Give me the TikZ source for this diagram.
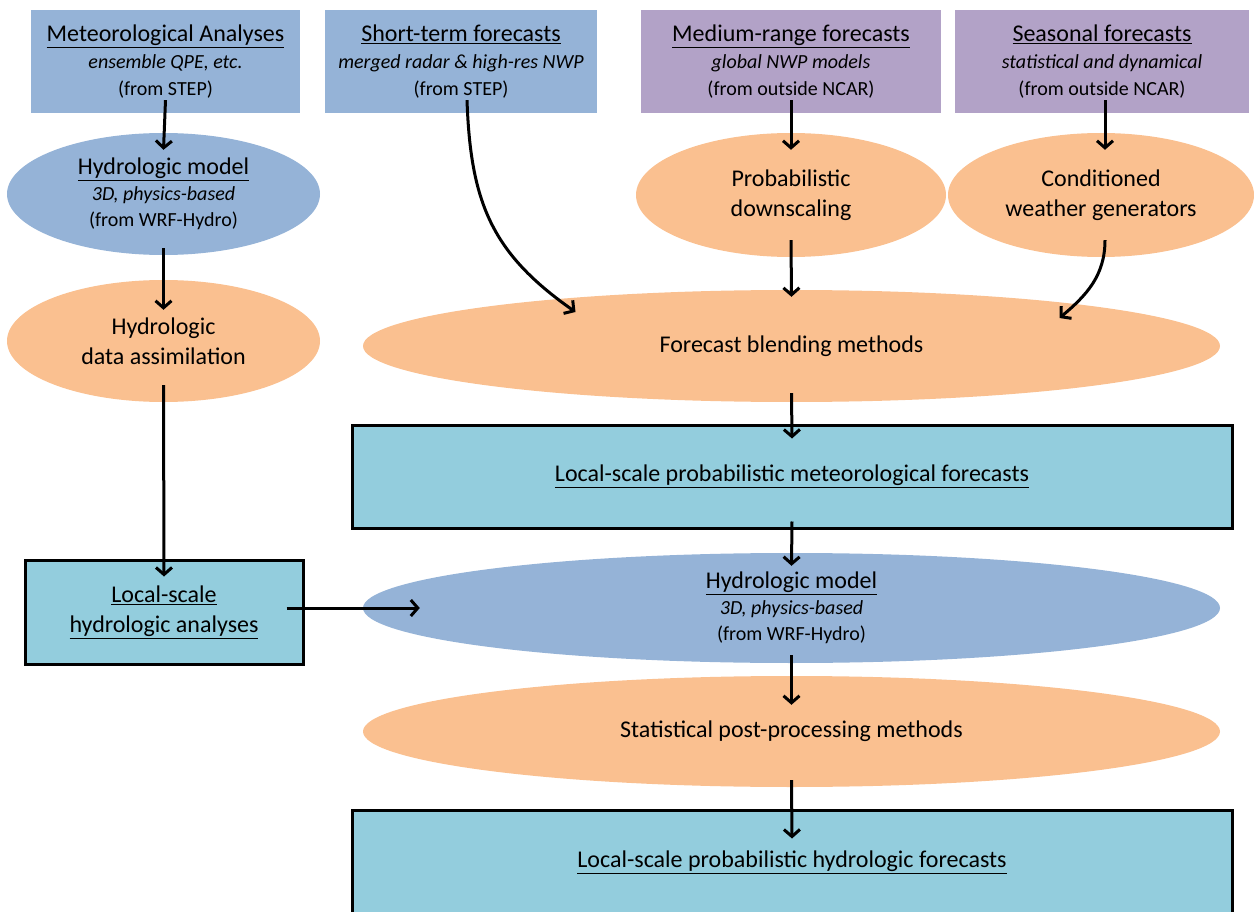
\documentclass[tikz,border=0pt]{standalone}
\usepackage{fontspec}
\setmainfont{Carlito}
\usetikzlibrary{shapes.geometric,arrows.meta}
\definecolor{srcblue}{RGB}{149,179,215}
\definecolor{srcpurple}{RGB}{178,162,199}
\definecolor{methorange}{RGB}{250,192,144}
\definecolor{prodcyan}{RGB}{147,205,221}
\newcommand{\boxtitle}[1]{{\fontsize{24}{26}\selectfont\underline{#1}}}

\begin{document}
\begin{tikzpicture}[x=1pt,y=-1pt,
font=\fontsize{24}{30}\selectfont,
srcbox/.style={rectangle, minimum height=103, inner sep=0pt, align=center,
    font=\fontsize{20}{27}\selectfont},
method/.style={ellipse, fill=methorange, inner sep=0pt, align=center},
model/.style={ellipse, fill=srcblue, inner sep=0pt, align=center,
    font=\fontsize{20}{26}\selectfont},
product/.style={rectangle, draw, line width=3pt, fill=prodcyan, inner sep=0pt,
    align=center},
flow/.style={line width=3pt, -{Straight Barb[length=7pt,width=16pt]}}]
\useasboundingbox (0,0) rectangle (1254,912);

% sources
\node[srcbox, fill=srcblue, minimum width=269] (met) at (165.5,61.5)
    {\boxtitle{Meteorological Analyses}\\ \textit{ensemble QPE, etc.}\\ (from STEP)};
\node[srcbox, fill=srcblue, minimum width=272] (short) at (461,61.5)
    {\boxtitle{Short-term forecasts}\\ \textit{merged radar \& high-res NWP}\\ (from STEP)};
\node[srcbox, fill=srcpurple, minimum width=300] (medium) at (791,61.5)
    {\boxtitle{Medium-range forecasts}\\ \textit{global NWP models}\\ (from outside NCAR)};
\node[srcbox, fill=srcpurple, minimum width=294] (seasonal) at (1102,61.5)
    {\boxtitle{Seasonal forecasts}\\ \textit{statistical and dynamical}\\ (from outside NCAR)};

% left column
\node[model, minimum width=313, minimum height=122] (hmleft) at (163.5,194)
    {\boxtitle{Hydrologic model}\\ \textit{3D, physics-based}\\ (from WRF-Hydro)};
\node[method, minimum width=313, minimum height=122] (assim) at (163.5,341)
    {Hydrologic\\ data assimilation};
\node[product, minimum width=278, minimum height=104] (hydan) at (164,612)
    {\underline{Local-scale}\\ \underline{hydrologic analyses}};

% forecast chain
\node[method, minimum width=310, minimum height=124] (downscale) at (791,195)
    {Probabilistic\\ downscaling};
\node[method, minimum width=306, minimum height=124] (wgen) at (1101,195)
    {Conditioned\\ weather generators};
\node[method, minimum width=857, minimum height=112] (blend) at (791.5,346)
    {Forecast blending methods};
\node[product, minimum width=880, minimum height=103] (metfc) at (792,476.5)
    {\underline{Local-scale probabilistic meteorological forecasts}};
\node[model, minimum width=857, minimum height=110] (hmright) at (791.5,608)
    {\boxtitle{Hydrologic model}\\ \textit{3D, physics-based}\\ (from WRF-Hydro)};
\node[method, minimum width=857, minimum height=111] (post) at (791.5,731.5)
    {Statistical post-processing methods};
\node[product, minimum width=880, minimum height=104] (hydfc) at (792,862)
    {\underline{Local-scale probabilistic hydrologic forecasts}};

% connectors
\draw[flow] ([yshift=13pt]met.south) -- ([yshift=-17pt]hmleft.north);
\draw[flow] ([yshift=7pt]hmleft.south) -- ([yshift=-30pt]assim.north);
\draw[flow] ([yshift=17pt]assim.south) -- ([yshift=-18pt]hydan.north);
\draw[flow] ([xshift=-18pt,yshift=4pt]hydan.east) -- ([xshift=57pt]hmright.west);
\draw[flow] ([xshift=6pt,yshift=13pt]short.south) to[out=-88,in=145,looseness=1.1]
    ([xshift=-216pt,yshift=34pt]blend.center);
\draw[flow] ([yshift=13pt]medium.south) -- ([yshift=-17pt]downscale.north);
\draw[flow] ([xshift=3pt,yshift=13pt]seasonal.south) -- ([xshift=4pt,yshift=-17pt]wgen.north);
\draw[flow] ([yshift=17pt]downscale.south) -- ([yshift=-7pt]blend.north);
\draw[flow] ([xshift=4pt,yshift=17pt]wgen.south) to[out=-90,in=40]
    ([xshift=268pt,yshift=28pt]blend.center);
\draw[flow] ([yshift=9pt]blend.south) -- ([yshift=-15pt]metfc.north);
\draw[flow] ([yshift=8pt]metfc.south) -- ([yshift=-13pt]hmright.north);
\draw[flow] ([yshift=8pt]hmright.south) -- ([yshift=-29pt]post.north);
\draw[flow] ([yshift=7pt]post.south) -- ([yshift=-30pt]hydfc.north);
\end{tikzpicture}
\end{document}
